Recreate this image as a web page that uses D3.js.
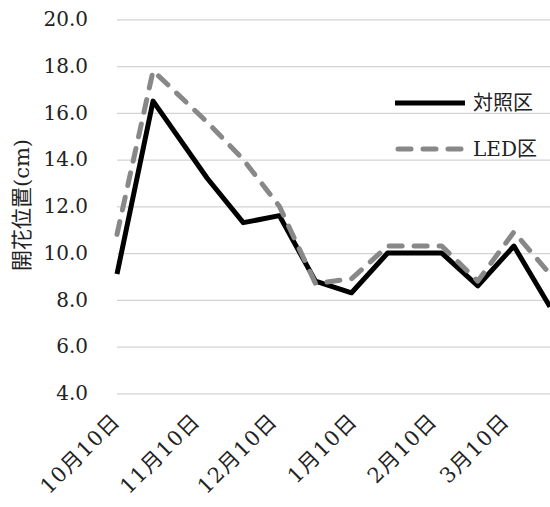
<!DOCTYPE html>
<html>
<head>
<meta charset="utf-8">
<script src="https://cdn.jsdelivr.net/npm/d3@7/dist/d3.min.js"></script>
<style>
  html, body { margin: 0; padding: 0; background: #fff; }
  svg { display: block; }
  text { font-family: "DejaVu Serif", "Noto Sans CJK JP", serif; fill: #222; }
</style>
</head>
<body>
<svg id="chart" width="550" height="507"></svg>
<script>
// Survey dates (roughly every two weeks)
const dates = ["2018-10-10","2018-10-24","2018-11-14","2018-11-28","2018-12-12","2018-12-26",
               "2019-01-09","2019-01-23","2019-02-13","2019-02-27","2019-03-13","2019-03-27"];
// Flowering position (cm)
const control = [9.1, 16.5, 13.2, 11.3, 11.6, 8.8, 8.3, 10.0, 10.0, 8.6, 10.3, 7.7];
const led     = [10.8, 17.8, 15.6, 14.0, 12.0, 8.7, 8.9, 10.3, 10.3, 8.8, 10.9, 9.1];
const seriesNames = ["対照区", "LED区"];

// Axis ticks
const xTickDates  = ["2018-10-10","2018-11-10","2018-12-10","2019-01-10","2019-02-10","2019-03-10"];
const xTickLabels = ["10月10日","11月10日","12月10日","1月10日","2月10日","3月10日"];
const yTicks = [4, 6, 8, 10, 12, 14, 16, 18, 20];
const yTitle = "開花位置(cm)";

const parse = d3.utcParse("%Y-%m-%d");
const svg = d3.select("#chart");

const plotLeft = 117, plotRight = 550, plotTop = 19.3, plotBottom = 393.3;

const x = d3.scaleUtc()
  .domain([parse(dates[0]), parse(dates[dates.length - 1])])
  .range([plotLeft, plotRight]);
const y = d3.scaleLinear().domain([4, 20]).range([plotBottom, plotTop]);

// Horizontal gridlines with value labels
const yAxis = svg.append("g")
  .attr("transform", `translate(${plotLeft},0)`)
  .call(d3.axisLeft(y).tickValues(yTicks).tickFormat(d3.format(".1f"))
        .tickSize(-(plotRight - plotLeft)).tickPadding(29));
yAxis.select(".domain").remove();
yAxis.selectAll(".tick line").attr("stroke", "#d4d4d4").attr("stroke-width", 1.2);
yAxis.selectAll(".tick text").attr("font-size", 20).attr("fill", "#222")
  .attr("font-family", "DejaVu Serif, serif");

// Date labels, rotated
const tickMap = new Map(xTickDates.map((d, i) => [+parse(d), xTickLabels[i]]));
const xAxis = svg.append("g")
  .attr("transform", `translate(0,${plotBottom})`)
  .call(d3.axisBottom(x).tickValues(xTickDates.map(parse))
        .tickFormat(d => tickMap.get(+d)).tickSize(0));
xAxis.select(".domain").remove();
xAxis.selectAll(".tick text")
  .attr("font-size", 21)
  .attr("letter-spacing", "1.2px")
  .attr("fill", "#222")
  .attr("font-family", "DejaVu Serif, Noto Sans CJK JP, serif")
  .attr("text-anchor", "end")
  .attr("dy", null)
  .attr("y", null)
  .attr("transform", "translate(4,29) rotate(-45)");

// Y axis title
svg.append("text")
  .attr("transform", "translate(29,205) rotate(-90)")
  .attr("text-anchor", "middle")
  .attr("font-size", 21)
  .text(yTitle);

// Lines
const pts = vals => vals.map((v, i) => [x(parse(dates[i])), y(v)]);
const line = d3.line();

svg.append("path")
  .attr("d", line(pts(control)))
  .attr("fill", "none")
  .attr("stroke", "#000")
  .attr("stroke-width", 5)
  .attr("stroke-linejoin", "round");

svg.append("path")
  .attr("d", line(pts(led)))
  .attr("fill", "none")
  .attr("stroke", "#888")
  .attr("stroke-width", 5)
  .attr("stroke-dasharray", "13 12")
  .attr("stroke-linecap", "round")
  .attr("stroke-linejoin", "round");

// Legend
const legend = svg.append("g").attr("transform", "translate(395,103)");
const styles = [
  { stroke: "#000", dash: null, cap: "butt" },
  { stroke: "#888", dash: "13 12", cap: "round" }
];
seriesNames.forEach((name, i) => {
  const g = legend.append("g").attr("transform", `translate(0,${i * 46})`);
  g.append("line")
    .attr("x1", i ? 3 : 0).attr("x2", i ? 68 : 70)
    .attr("y1", 0).attr("y2", 0)
    .attr("stroke", styles[i].stroke)
    .attr("stroke-width", 5)
    .attr("stroke-linecap", styles[i].cap)
    .attr("stroke-dasharray", styles[i].dash);
  g.append("text")
    .attr("x", 78).attr("y", 0).attr("dy", "0.35em")
    .attr("font-size", 20)
    .text(name);
});
</script>
</body>
</html>
